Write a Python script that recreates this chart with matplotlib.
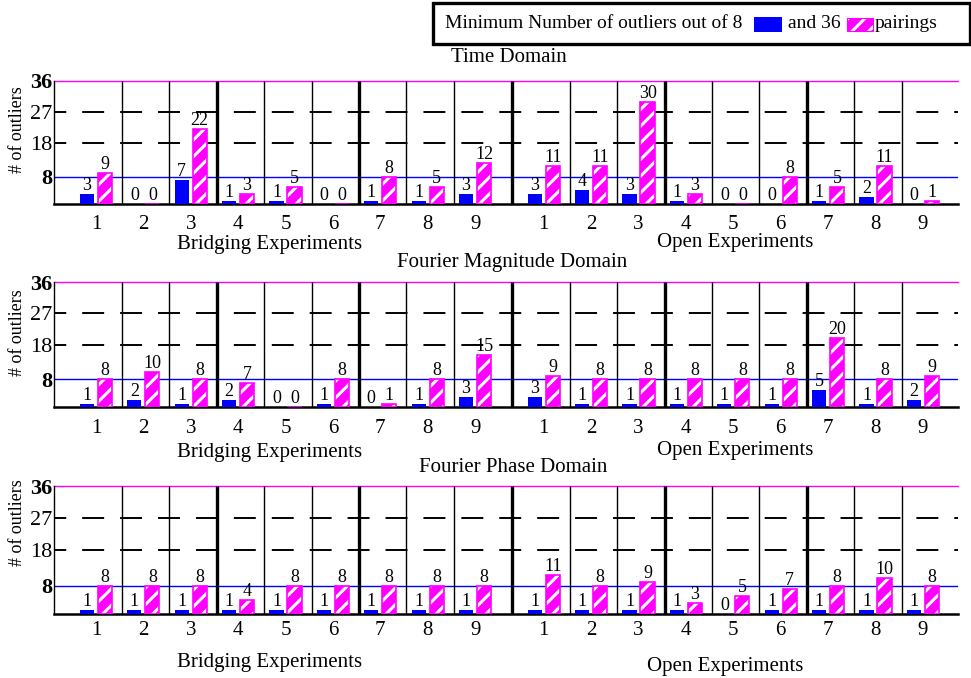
import matplotlib
matplotlib.use('Agg')
import matplotlib.pyplot as plt
from matplotlib.patches import Rectangle

plt.rcParams['font.family'] = ['Liberation Serif', 'DejaVu Serif']
plt.rcParams['hatch.linewidth'] = 2.2
plt.rcParams['lines.scale_dashes'] = False

# ---------------- data ----------------
domains = ["Time Domain", "Fourier Magnitude Domain", "Fourier Phase Domain"]
experiment_ids = [1, 2, 3, 4, 5, 6, 7, 8, 9]
y_ticks = [8, 18, 27, 36]

time_bridging_of8 = [3, 0, 7, 1, 1, 0, 1, 1, 3]
time_bridging_of36 = [9, 0, 22, 3, 5, 0, 8, 5, 12]
time_open_of8 = [3, 4, 3, 1, 0, 0, 1, 2, 0]
time_open_of36 = [11, 11, 30, 3, 0, 8, 5, 11, 1]

mag_bridging_of8 = [1, 2, 1, 2, 0, 1, 0, 1, 3]
mag_bridging_of36 = [8, 10, 8, 7, 0, 8, 1, 8, 15]
mag_open_of8 = [3, 1, 1, 1, 1, 1, 5, 1, 2]
mag_open_of36 = [9, 8, 8, 8, 8, 8, 20, 8, 9]

phase_bridging_of8 = [1, 1, 1, 1, 1, 1, 1, 1, 1]
phase_bridging_of36 = [8, 8, 8, 4, 8, 8, 8, 8, 8]
phase_open_of8 = [1, 1, 1, 1, 0, 1, 1, 1, 1]
phase_open_of36 = [11, 8, 9, 3, 5, 7, 8, 10, 8]

rows_data = [
    (time_bridging_of8, time_bridging_of36, time_open_of8, time_open_of36),
    (mag_bridging_of8, mag_bridging_of36, mag_open_of8, mag_open_of36),
    (phase_bridging_of8, phase_bridging_of36, phase_open_of8, phase_open_of36),
]

# ---------------- layout ----------------
W, H = 971, 678
BLUE = '#0000FF'
MAG = '#FF00FF'
fig = plt.figure(figsize=(W / 100, H / 100), dpi=100)


def fx(px):
    return px / W


def fy(py):
    return 1 - py / H


row_pix = [(81, 204), (282, 407), (486, 614)]
title_pos = [(509, 58), (512, 263), (513, 468)]
ylab_pos = [130, 333, 523]
bridge_lab = [(270, 245), (270, 453), (270, 663)]
open_lab = [(735, 243), (735, 450), (725, 667)]
tick_pad = [8.0, 8.8, 5.2]

OPEN_OFF = 9.45
BW = 0.30
DB, DM = -0.24, 0.14

for r, (top, bot) in enumerate(row_pix):
    b8, b36, o8, o36 = rows_data[r]
    ax = fig.add_axes([fx(54), fy(bot), (958 - 54) / W, (bot - top) / H])
    ax.set_xlim(0.065, 19.14)
    ax.set_ylim(0, 36)
    for s in ('top', 'right'):
        ax.spines[s].set_visible(False)
    ax.spines['left'].set_linewidth(1.0)
    ax.spines['bottom'].set_linewidth(1.8)
    ax.patch.set_alpha(0)

    ax.axhline(36, color=MAG, lw=1.0, zorder=1, clip_on=False)
    ax.axhline(8, color=BLUE, lw=1.0, zorder=1)
    for yv in (18, 27):
        ax.axhline(yv, color='black', lw=1.4, linestyle=(7, (15.8, 11.5)), zorder=1)

    # separators
    seps = []
    for k in range(1, 9):
        seps.append((k + 0.5, k in (3, 6)))
        seps.append((OPEN_OFF + k + 0.5, k in (3, 6)))
    seps.append((9.72, True))
    for xs, thick in seps:
        ax.plot([xs, xs], [0, 36], color='black', lw=2.4 if thick else 1.0,
                zorder=2, solid_capstyle='butt')

    xb = [i for i in experiment_ids]
    xo = [OPEN_OFF + i for i in experiment_ids]
    xs_all = xb + xo
    v8 = list(b8) + list(o8)
    v36 = list(b36) + list(o36)
    x8 = [x + DB for x in xs_all]
    x36 = [x + DM for x in xs_all]
    ax.bar(x8, v8, width=BW, color=BLUE, edgecolor='none', zorder=3)
    ax.bar(x36, v36, width=BW, color=MAG, edgecolor='white', hatch='//',
           linewidth=0, zorder=3)
    ax.bar(x36, v36, width=BW, facecolor='none', edgecolor=MAG,
           linewidth=1.2, zorder=4)

    for x, v in zip(x8, v8):
        ax.annotate(str(v), (x, v), xytext=(0, 0), textcoords='offset points',
                    ha='center', va='bottom', fontsize=13, zorder=5)
    for x, v in zip(x36, v36):
        ax.annotate(str(v), (x, v), xytext=(0, 0), textcoords='offset points',
                    ha='center', va='bottom', fontsize=13, zorder=5)

    ax.set_xticks([x - 0.05 for x in xs_all])
    ax.set_xticklabels([str(i) for i in experiment_ids] * 2, fontsize=15)
    ax.tick_params(axis='x', length=0, pad=tick_pad[r])
    ax.set_yticks(y_ticks)
    ax.set_yticklabels([str(t) for t in y_ticks], fontsize=16)
    for lab in ax.get_yticklabels():
        if lab.get_text() in ('8', '36'):
            lab.set_fontweight('bold')
    ax.tick_params(axis='y', length=0, pad=1)

    fig.text(fx(title_pos[r][0]), fy(title_pos[r][1]), domains[r],
             ha='center', va='center', fontsize=15)
    fig.text(fx(18), fy(ylab_pos[r]), '# of outliers', rotation=90,
             ha='center', va='center', fontsize=13)
    fig.text(fx(bridge_lab[r][0]), fy(bridge_lab[r][1]), 'Bridging Experiments',
             ha='center', va='center', fontsize=15)
    fig.text(fx(open_lab[r][0]), fy(open_lab[r][1]), 'Open Experiments',
             ha='center', va='center', fontsize=15)

# ---------------- legend box ----------------
fig.patches.append(Rectangle((fx(433), fy(44)), (970 - 433) / W, 41 / H,
                             transform=fig.transFigure, facecolor='white',
                             edgecolor='black', lw=2.4))
fig.text(fx(445), fy(24), 'Minimum Number of outliers out of 8',
         ha='left', va='center', fontsize=14)
fig.patches.append(Rectangle((fx(754), fy(32)), 28 / W, 15 / H,
                             transform=fig.transFigure, facecolor=BLUE,
                             edgecolor='none'))
fig.text(fx(788), fy(24), 'and 36', ha='left', va='center', fontsize=14)
fig.patches.append(Rectangle((fx(847), fy(31)), 26 / W, 13 / H,
                             transform=fig.transFigure, facecolor=MAG,
                             edgecolor='white', hatch='//', lw=0))
fig.patches.append(Rectangle((fx(847), fy(31)), 26 / W, 13 / H,
                             transform=fig.transFigure, facecolor='none',
                             edgecolor=MAG, lw=0.8))
fig.text(fx(875), fy(24), 'pairings', ha='left', va='center', fontsize=14)

fig.savefig('out.png', dpi=100)
